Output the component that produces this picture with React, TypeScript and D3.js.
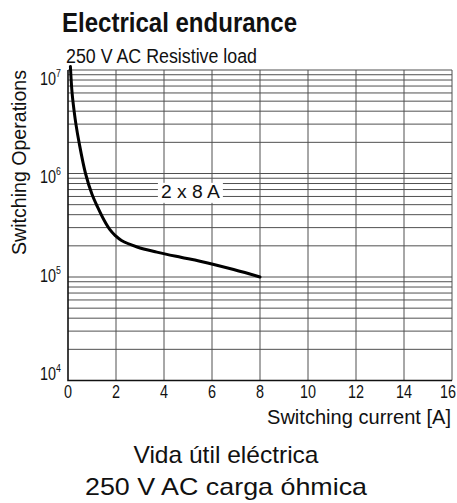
import React, { useEffect, useRef } from 'react';
import * as d3 from 'd3';

// curve (switching current [A] vs operations)
const currentA = [0.1, 0.17, 0.25, 0.33, 0.46, 0.73, 1.0, 1.25, 1.5, 1.73, 1.98, 2.23, 2.88, 3.7, 4.7, 5.5, 6.9, 8];
const operations = [
  1.08e7, 6.0e6, 4.1e6, 3.0e6, 2.0e6, 1.0e6, 6.3e5, 4.65e5, 3.55e5, 2.9e5, 2.5e5, 2.25e5, 1.95e5, 1.74e5,
  1.55e5, 1.42e5, 1.18e5, 1.0e5,
];
const xTicks = [0, 2, 4, 6, 8, 10, 12, 14, 16];
const decades = [4, 5, 6, 7];
const minorSteps = [2, 3, 4, 5, 6, 7, 8, 9];
const seriesLabel = '2 x 8 A';
const seriesLabelX = 5.1;
const seriesLabelY = 6.8e5;

const title = 'Electrical endurance';
const subtitle = '250 V AC Resistive load';
const yTitle = 'Switching Operations';
const xTitle = 'Switching current [A]';
const footer = ['Vida útil eléctrica', '250 V AC carga óhmica'];

const SANS = "'Liberation Sans', Arial, sans-serif";
const SQUEEZE = 0.8; // stand-in for the condensed face of the original

const App = () => {
  const svgRef = useRef<SVGSVGElement>(null);

  useEffect(() => {
    const svg = d3.select(svgRef.current);
    svg.selectAll('*').remove();

    const left = 68;
    const right = 452;
    const top = 70;
    const bottom = 380.5;

    const x = d3.scaleLinear().domain([0, 16]).range([left, right]);
    const y = d3.scaleLog().domain([1e4, 1e7]).range([bottom, top]);
    // tick labels in the scan drift slightly from the grid lines
    const labelY = d3.scaleLinear().domain([4, 7]).range([380, 85]);

    const grid = svg.append('g');

    // horizontal log grid
    const hValues: number[] = [];
    decades.forEach((d) => {
      hValues.push(10 ** d);
      if (d < 7) minorSteps.forEach((m) => hValues.push(m * 10 ** d));
    });
    grid
      .selectAll('line.h')
      .data(hValues)
      .enter()
      .append('line')
      .attr('x1', left)
      .attr('x2', right)
      .attr('y1', (d) => y(d))
      .attr('y2', (d) => y(d))
      .attr('stroke', '#505050')
      .attr('stroke-width', 1);

    // vertical grid
    grid
      .selectAll('line.v')
      .data(xTicks.slice(1))
      .enter()
      .append('line')
      .attr('x1', (d) => x(d))
      .attr('x2', (d) => x(d))
      .attr('y1', top)
      .attr('y2', bottom)
      .attr('stroke', '#505050')
      .attr('stroke-width', 1);

    // axes
    svg
      .append('path')
      .attr('d', `M${left},${top}V${bottom}H${right}`)
      .attr('fill', 'none')
      .attr('stroke', '#111')
      .attr('stroke-width', 1.6);

    // curve
    const line = d3
      .line<number>()
      .x((d, i) => x(currentA[i]))
      .y((d) => y(d))
      .curve(d3.curveCatmullRom.alpha(0.5));
    svg
      .append('path')
      .attr('d', line(operations))
      .attr('fill', 'none')
      .attr('stroke', '#000')
      .attr('stroke-width', 3)
      .attr('stroke-linecap', 'round');

    // series label with white box
    const lbl = svg.append('g');
    const lblText = lbl
      .append('text')
      .attr('x', x(seriesLabelX))
      .attr('y', y(seriesLabelY) + 7)
      .attr('text-anchor', 'middle')
      .attr('font-family', SANS)
      .attr('font-size', 18)
      .attr('fill', '#111')
      .attr('textLength', 59)
      .attr('lengthAdjust', 'spacingAndGlyphs')
      .text(seriesLabel);
    const bb = (lblText.node() as SVGTextElement).getBBox();
    lbl
      .insert('rect', 'text')
      .attr('x', bb.x - 3)
      .attr('y', bb.y + 1)
      .attr('width', bb.width + 6)
      .attr('height', bb.height)
      .attr('fill', '#fff');

    // x tick labels
    svg
      .selectAll('text.xt')
      .data(xTicks)
      .enter()
      .append('text')
      .attr('transform', (d, i) =>
        i === xTicks.length - 1 ? `translate(456,398) scale(${SQUEEZE},1)` : `translate(${x(d)},398) scale(${SQUEEZE},1)`
      )
      .attr('text-anchor', (d, i) => (i === xTicks.length - 1 ? 'end' : 'middle'))
      .attr('font-family', SANS)
      .attr('font-size', 18)
      .attr('fill', '#111')
      .text((d) => d);

    // y tick labels 10^n
    const yt = svg
      .selectAll('text.yt')
      .data(decades)
      .enter()
      .append('text')
      .attr('transform', (d) => `translate(61,${labelY(d)}) scale(${SQUEEZE},1)`)
      .attr('text-anchor', 'end')
      .attr('font-family', SANS)
      .attr('font-size', 18)
      .attr('fill', '#111');
    yt.append('tspan').text('10');
    yt.append('tspan').attr('dy', -8).attr('font-size', 11).text((d) => d);

    // titles
    svg
      .append('text')
      .attr('x', 62)
      .attr('y', 32)
      .attr('font-family', SANS)
      .attr('font-weight', 'bold')
      .attr('font-size', 27)
      .attr('fill', '#111')
      .attr('textLength', 235)
      .attr('lengthAdjust', 'spacingAndGlyphs')
      .text(title);
    svg
      .append('text')
      .attr('x', 66)
      .attr('y', 63)
      .attr('font-family', SANS)
      .attr('font-size', 20)
      .attr('fill', '#111')
      .attr('textLength', 191)
      .attr('lengthAdjust', 'spacingAndGlyphs')
      .text(subtitle);
    svg
      .append('text')
      .attr('transform', 'translate(26,162.5) rotate(-90)')
      .attr('text-anchor', 'middle')
      .attr('font-family', SANS)
      .attr('font-size', 20)
      .attr('fill', '#111')
      .attr('textLength', 185)
      .attr('lengthAdjust', 'spacingAndGlyphs')
      .text(yTitle);
    svg
      .append('text')
      .attr('x', 451)
      .attr('y', 424)
      .attr('text-anchor', 'end')
      .attr('font-family', SANS)
      .attr('font-size', 20)
      .attr('fill', '#111')
      .attr('textLength', 184)
      .attr('lengthAdjust', 'spacingAndGlyphs')
      .text(xTitle);

    // footer (Spanish)
    const footerY = [463, 495];
    const footerW = [185, 282];
    footer.forEach((t, i) => {
      svg
        .append('text')
        .attr('x', 226)
        .attr('y', footerY[i])
        .attr('text-anchor', 'middle')
        .attr('font-family', SANS)
        .attr('font-size', 24)
        .attr('fill', '#111')
        .attr('textLength', footerW[i])
        .attr('lengthAdjust', 'spacingAndGlyphs')
        .text(t);
    });
  }, []);

  return (
    <svg
      ref={svgRef}
      width={457}
      height={503}
      style={{ position: 'absolute', left: 0, top: 0, background: '#fff' }}
    />
  );
};

export default App;
